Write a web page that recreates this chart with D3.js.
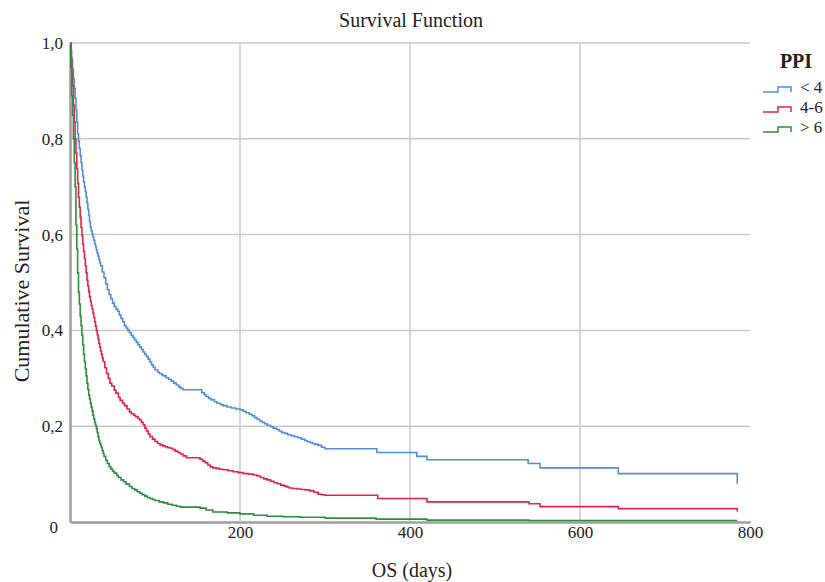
<!DOCTYPE html>
<html>
<head>
<meta charset="utf-8">
<script src="https://cdn.jsdelivr.net/npm/d3@7"></script>
<style>
    body { margin: 0; background: #fff; }
    text { font-family: "Liberation Serif", "DejaVu Serif", serif; fill: #222; }
</style>
</head>
<body>
<div id="chart"></div>
<script>
// tick values
const xTicks = [200, 400, 600, 800];
const yTicks = [0, 0.2, 0.4, 0.6, 0.8, 1.0];

const groups = ["< 4", "4-6", "> 6"];
const colors = ["#4f8fd8", "#e3244a", "#2f8d3b"];

// days / cumulative survival
const blueDays = [0,1,2,3,4,5,6,7,8,9,10,11,12,13,14,15,16,17,18,19,20,21,22,23,24,25,26,27,28,29,30,31,32,33,34,35,36,38,40,42,44,46,48,50,52,54,56,58,60,62,64,66,68,70,72,74,76,78,80,82,84,86,88,90,92,94,96,98,100,103,105,108,110,113,116,119,122,125,128,130,133,155,158,160,163,166,170,173,177,180,185,190,195,200,204,207,211,214,217,220,223,226,229,232,236,239,243,246,249,252,256,260,264,268,272,276,279,282,285,288,292,296,300,361,408,420,539,553,645,785];
const blueSurv = [1.0,0.985,0.965,0.945,0.925,0.905,0.885,0.86,0.835,0.81,0.795,0.78,0.765,0.75,0.735,0.722,0.71,0.70,0.69,0.678,0.666,0.653,0.64,0.627,0.615,0.608,0.601,0.595,0.588,0.581,0.575,0.568,0.561,0.555,0.548,0.541,0.535,0.522,0.51,0.497,0.485,0.475,0.466,0.457,0.45,0.445,0.44,0.432,0.425,0.418,0.41,0.405,0.40,0.395,0.39,0.385,0.38,0.375,0.37,0.365,0.36,0.355,0.35,0.345,0.34,0.334,0.328,0.323,0.318,0.313,0.31,0.307,0.305,0.301,0.298,0.294,0.29,0.286,0.282,0.279,0.276,0.27,0.266,0.262,0.258,0.255,0.251,0.248,0.245,0.243,0.24,0.238,0.236,0.234,0.231,0.228,0.225,0.222,0.218,0.215,0.211,0.208,0.205,0.202,0.199,0.196,0.193,0.19,0.187,0.185,0.182,0.18,0.178,0.176,0.173,0.17,0.168,0.166,0.164,0.162,0.16,0.156,0.153,0.145,0.137,0.13,0.122,0.113,0.101,0.08];

const redDays = [0,1,2,3,4,5,6,7,8,9,10,11,12,13,14,15,16,17,18,19,20,21,22,23,24,25,26,27,28,29,30,31,32,33,34,35,36,37,38,39,41,43,45,47,49,52,54,57,59,62,64,67,70,72,75,77,80,82,84,86,88,90,92,94,97,100,103,106,109,112,115,118,121,124,127,130,133,137,153,156,159,162,165,168,172,176,180,186,192,198,204,210,216,220,224,228,232,236,240,244,248,252,255,258,262,267,272,277,282,287,292,296,300,362,420,540,553,645,785];
const redSurv = [1.0,0.97,0.94,0.91,0.87,0.835,0.80,0.77,0.738,0.707,0.678,0.657,0.636,0.615,0.597,0.58,0.565,0.55,0.535,0.52,0.505,0.493,0.481,0.47,0.461,0.452,0.444,0.436,0.427,0.418,0.409,0.40,0.391,0.382,0.373,0.365,0.357,0.35,0.342,0.335,0.322,0.31,0.30,0.29,0.284,0.275,0.269,0.26,0.254,0.248,0.243,0.236,0.23,0.226,0.223,0.22,0.216,0.213,0.208,0.203,0.196,0.19,0.184,0.178,0.173,0.168,0.164,0.161,0.159,0.157,0.155,0.154,0.151,0.148,0.145,0.142,0.138,0.134,0.131,0.127,0.124,0.119,0.115,0.113,0.112,0.11,0.109,0.107,0.105,0.103,0.101,0.1,0.098,0.096,0.093,0.09,0.088,0.085,0.082,0.08,0.077,0.075,0.073,0.071,0.07,0.069,0.068,0.067,0.065,0.062,0.058,0.057,0.056,0.049,0.042,0.038,0.032,0.028,0.022];

const greenDays = [0,1,2,3,4,5,6,7,8,9,10,11,12,13,14,15,16,17,18,19,20,21,22,23,24,25,26,27,28,29,30,31,32,33,34,35,36,37,38,39,40,42,44,46,48,50,52,55,57,60,63,66,70,73,76,79,82,85,88,91,94,97,100,105,110,115,120,125,130,153,160,168,185,200,216,232,250,270,300,360,420,540,785];
const greenSurv = [1.0,0.95,0.89,0.85,0.80,0.75,0.70,0.62,0.57,0.52,0.48,0.455,0.43,0.41,0.39,0.37,0.35,0.335,0.32,0.305,0.29,0.277,0.265,0.257,0.248,0.24,0.232,0.223,0.215,0.208,0.202,0.195,0.187,0.178,0.17,0.165,0.16,0.155,0.149,0.143,0.137,0.129,0.122,0.116,0.111,0.106,0.102,0.097,0.093,0.088,0.084,0.079,0.074,0.07,0.067,0.063,0.06,0.057,0.054,0.051,0.049,0.047,0.045,0.042,0.04,0.037,0.035,0.033,0.031,0.029,0.025,0.021,0.019,0.017,0.014,0.012,0.011,0.010,0.008,0.006,0.004,0.003,0.003];

const series = [
    { name: groups[0], color: colors[0], days: blueDays, surv: blueSurv },
    { name: groups[1], color: colors[1], days: redDays, surv: redSurv },
    { name: groups[2], color: colors[2], days: greenDays, surv: greenSurv }
];

const width = 825, height = 582;
const margin = { top: 43, right: 75, bottom: 60, left: 70 };

const svg = d3.select("#chart").append("svg")
    .attr("width", width)
    .attr("height", height);

const x = d3.scaleLinear().domain([0, 800]).range([margin.left, width - margin.right]);
const y = d3.scaleLinear().domain([0, 1]).range([height - margin.bottom, margin.top]);

// grid
svg.append("g")
    .selectAll("line.h")
    .data(yTicks.filter(d => d > 0))
    .enter().append("line")
    .attr("x1", x(0)).attr("x2", x(800))
    .attr("y1", d => y(d)).attr("y2", d => y(d))
    .attr("stroke", "#c9c9c9").attr("stroke-width", 1.5);

svg.append("g")
    .selectAll("line.v")
    .data(xTicks.filter(d => d < 800))
    .enter().append("line")
    .attr("x1", d => x(d)).attr("x2", d => x(d))
    .attr("y1", y(1)).attr("y2", y(0))
    .attr("stroke", "#c9c9c9").attr("stroke-width", 1.5);

// axes
const xAxis = svg.append("g")
    .attr("transform", `translate(0,${y(0)})`)
    .call(d3.axisBottom(x).tickValues(xTicks).tickSize(0).tickPadding(4));
xAxis.select(".domain").attr("stroke", "#9e9e9e").attr("stroke-width", 2.5);
xAxis.selectAll("text").attr("font-size", 17).attr("font-family", "Liberation Serif").attr("fill", "#222");

const yAxis = svg.append("g")
    .attr("transform", `translate(${x(0)},0)`)
    .call(d3.axisLeft(y).tickValues(yTicks).tickSize(0).tickPadding(7)
        .tickFormat(d => d === 0 ? "0" : d3.format(".1f")(d).replace(".", ",")));
yAxis.select(".domain").attr("stroke", "#9e9e9e").attr("stroke-width", 2.5);
yAxis.selectAll("text").attr("font-size", 17).attr("font-family", "Liberation Serif").attr("fill", "#222");
yAxis.selectAll(".tick").filter(d => d === 0).select("text").attr("dy", "0.6em").attr("dx", "-0.3em");

// curves
const line = d3.line()
    .x(d => x(d[0]))
    .y(d => y(d[1]))
    .curve(d3.curveStepAfter);

svg.append("g")
    .selectAll("path")
    .data(series)
    .enter().append("path")
    .attr("d", s => line(s.days.map((d, i) => [d, s.surv[i]])))
    .attr("fill", "none")
    .attr("stroke", s => s.color)
    .attr("stroke-width", 1.6);

// titles
svg.append("text")
    .attr("x", 411).attr("y", 27)
    .attr("text-anchor", "middle")
    .attr("font-size", 20)
    .text("Survival Function");

svg.append("text")
    .attr("x", 412).attr("y", 577)
    .attr("text-anchor", "middle")
    .attr("font-size", 20)
    .text("OS (days)");

svg.append("text")
    .attr("transform", "translate(29,291) rotate(-90)")
    .attr("text-anchor", "middle")
    .attr("font-size", 22)
    .text("Cumulative Survival");

// legend
const legend = svg.append("g");
legend.append("text")
    .attr("x", 796).attr("y", 68)
    .attr("text-anchor", "middle")
    .attr("font-size", 20)
    .attr("font-weight", "bold")
    .text("PPI");

const item = legend.selectAll("g.item")
    .data(series)
    .enter().append("g")
    .attr("transform", (d, i) => `translate(0,${92 + i * 20})`);

item.append("path")
    .attr("d", "M763,0H778V-5H791V0")
    .attr("fill", "none")
    .attr("stroke", d => d.color)
    .attr("stroke-width", 1.5);

item.append("text")
    .attr("x", 800).attr("y", 1)
    .attr("font-size", 17)
    .text(d => d.name);
</script>
</body>
</html>
